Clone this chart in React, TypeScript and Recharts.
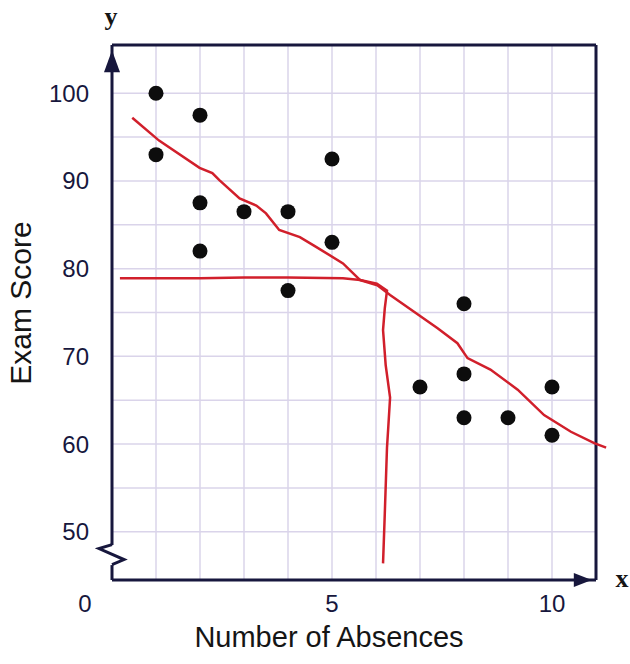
import React from 'react';
import {
  ScatterChart,
  Scatter,
  XAxis,
  YAxis,
  ReferenceLine,
} from 'recharts';

// points
const absences = [1, 1, 2, 2, 2, 3, 4, 4, 5, 5, 7, 8, 8, 8, 9, 10, 10];
const examScores = [100, 93, 97.5, 87.5, 82, 86.5, 86.5, 77.5, 92.5, 83, 66.5, 76, 68, 63, 63, 66.5, 61];

// hand drawn red trend line
const trendX = [0.46, 1.07, 1.99, 2.28, 2.44, 2.9, 3.28, 3.5, 3.8, 4.27, 4.6, 5.25, 5.64, 6.03, 6.32, 7.4, 7.85, 8.08, 8.6, 9.22, 9.82, 10.43, 10.96, 11.23];
const trendY = [97.2, 94.6, 91.5, 90.9, 90.1, 88.0, 87.2, 86.3, 84.4, 83.6, 82.6, 80.6, 78.7, 78.1, 77.0, 73.2, 71.5, 69.8, 68.5, 66.2, 63.3, 61.4, 60.1, 59.6];

// hand drawn red reading line (across, then down)
const cutX = [0.18, 1, 2, 3, 4, 5.25, 5.64, 6.02, 6.25, 6.2, 6.16, 6.22, 6.32, 6.28, 6.25, 6.2, 6.16];
const cutY = [78.9, 78.9, 78.9, 79.0, 79.0, 78.9, 78.7, 78.3, 77.5, 75.5, 73.0, 69.0, 65.3, 62.0, 59.6, 52.1, 46.4];

const xGridTicks = [1, 2, 3, 4, 5, 6, 7, 8, 9, 10];
const xLabelTicks = [0, 5, 10];
const yGridTicks = [50, 55, 60, 65, 70, 75, 80, 85, 90, 95, 100];
const yLabelTicks = [50, 60, 70, 80, 90, 100];

// frame is 0..11 wide; the axis runs a little further so the trend line can poke out
const xFrame = 11;
const xAxisMax = 11.25;
const yMin = 44.5;
const yMax = 105.5;

// axis decorations
const arrowUp = [{ x: 0, y: 103.65 }];
const arrowRight = [{ x: 10.7, y: yMin }];
const axisBreak = [{ x: 0, y: 47.4 }];
const breakTop = 48.5;
const breakBottom = 46.2;

const points = absences.map((x, i) => ({ x, y: examScores[i] }));
const trend = trendX.map((x, i) => ({ x, y: trendY[i] }));
const cut = cutX.map((x, i) => ({ x, y: cutY[i] }));

const INK = '#17173d';
const RED = '#d11f2b';
const GRID = '#dad4ea';
const SANS = '"Liberation Sans", Arial, sans-serif';
const SERIF = '"Liberation Serif", "Times New Roman", serif';

function XTick({ x, y, payload }: any) {
  if (!xLabelTicks.includes(payload.value)) return <g />;
  const shift = payload.value === 0 ? -27 : 0;
  return (
    <text x={x + shift} y={y + 24} textAnchor="middle" fontSize={24} fill={INK} fontFamily={SANS}>
      {payload.value}
    </text>
  );
}

function YTick({ x, y, payload }: any) {
  if (!yLabelTicks.includes(payload.value)) return <g />;
  return (
    <text x={x - 15} y={y + 8.5} textAnchor="end" fontSize={24} fill={INK} fontFamily={SANS}>
      {payload.value}
    </text>
  );
}

const Dot = (p: any) => <circle cx={p.cx} cy={p.cy} r={7.5} fill="#0d0d0d" />;
const NoDot = () => <g />;
const UpHead = (p: any) => (
  <path d={`M${p.cx},${p.cy - 11} L${p.cx + 8},${p.cy + 11} L${p.cx - 8},${p.cy + 11} Z`} fill={INK} />
);
const RightHead = (p: any) => (
  <path d={`M${p.cx + 9},${p.cy} L${p.cx - 9},${p.cy - 7} L${p.cx - 9},${p.cy + 7} Z`} fill={INK} />
);
const BreakMark = (p: any) => (
  <path
    d={`M${p.cx},${p.cy - 10} L${p.cx - 13},${p.cy - 6} L${p.cx + 12},${p.cy + 5} L${p.cx},${p.cy + 10}`}
    fill="none"
    stroke={INK}
    strokeWidth={3}
  />
);

export default function App() {
  return (
    <div style={{ position: 'absolute', left: 0, top: 0, width: 630, height: 664, background: '#fff' }}>
      <ScatterChart width={630} height={664} margin={{ top: 45, right: 23, bottom: 0, left: 0 }}>
        <XAxis
          type="number"
          dataKey="x"
          domain={[0, xAxisMax]}
          ticks={xLabelTicks}
          tick={<XTick />}
          tickLine={false}
          axisLine={false}
          height={84}
          interval={0}
          label={{
            content: () => (
              <g>
                <text x={329} y={647} textAnchor="middle" fontSize={29} fill="#151515" fontFamily={SANS}>
                  Number of Absences
                </text>
                <text x={622} y={587} textAnchor="middle" fontSize={26} fontWeight="bold" fill="#151515" fontFamily={SERIF}>
                  x
                </text>
              </g>
            ),
          }}
        />
        <YAxis
          type="number"
          dataKey="y"
          domain={[yMin, yMax]}
          ticks={yLabelTicks}
          tick={<YTick />}
          tickLine={false}
          axisLine={false}
          width={112}
          interval={0}
          label={{
            content: () => (
              <g>
                <text
                  transform="translate(31,303) rotate(-90)"
                  textAnchor="middle"
                  fontSize={30}
                  fill="#151515"
                  fontFamily={SANS}
                >
                  Exam Score
                </text>
                <text x={111} y={25} textAnchor="middle" fontSize={26} fontWeight="bold" fill="#151515" fontFamily={SERIF}>
                  y
                </text>
              </g>
            ),
          }}
        />
        {xGridTicks.map((v) => (
          <ReferenceLine
            key={`gx${v}`}
            segment={[{ x: v, y: yMin }, { x: v, y: yMax }]}
            stroke={GRID}
            strokeWidth={1.5}
            ifOverflow="visible"
          />
        ))}
        {yGridTicks.map((v) => (
          <ReferenceLine
            key={`gy${v}`}
            segment={[{ x: 0, y: v }, { x: xFrame, y: v }]}
            stroke={GRID}
            strokeWidth={1.5}
            ifOverflow="visible"
          />
        ))}
        <ReferenceLine segment={[{ x: 0, y: yMax }, { x: xFrame, y: yMax }]} stroke={INK} strokeWidth={3} ifOverflow="visible" />
        <ReferenceLine segment={[{ x: 0, y: yMin }, { x: xFrame, y: yMin }]} stroke={INK} strokeWidth={3} ifOverflow="visible" />
        <ReferenceLine segment={[{ x: xFrame, y: yMin }, { x: xFrame, y: yMax }]} stroke={INK} strokeWidth={3} ifOverflow="visible" />
        <ReferenceLine segment={[{ x: 0, y: yMax }, { x: 0, y: breakTop }]} stroke={INK} strokeWidth={3} ifOverflow="visible" />
        <ReferenceLine segment={[{ x: 0, y: breakBottom }, { x: 0, y: yMin }]} stroke={INK} strokeWidth={3} ifOverflow="visible" />
        <Scatter data={arrowUp} shape={UpHead} isAnimationActive={false} />
        <Scatter data={arrowRight} shape={RightHead} isAnimationActive={false} />
        <Scatter data={axisBreak} shape={BreakMark} isAnimationActive={false} />
        <Scatter
          data={cut}
          shape={NoDot}
          line={{ stroke: RED, strokeWidth: 2.5 }}
          lineJointType="linear"
          isAnimationActive={false}
        />
        <Scatter
          data={trend}
          shape={NoDot}
          line={{ stroke: RED, strokeWidth: 2.5 }}
          lineJointType="linear"
          isAnimationActive={false}
        />
        <Scatter data={points} shape={Dot} isAnimationActive={false} />
      </ScatterChart>
    </div>
  );
}
